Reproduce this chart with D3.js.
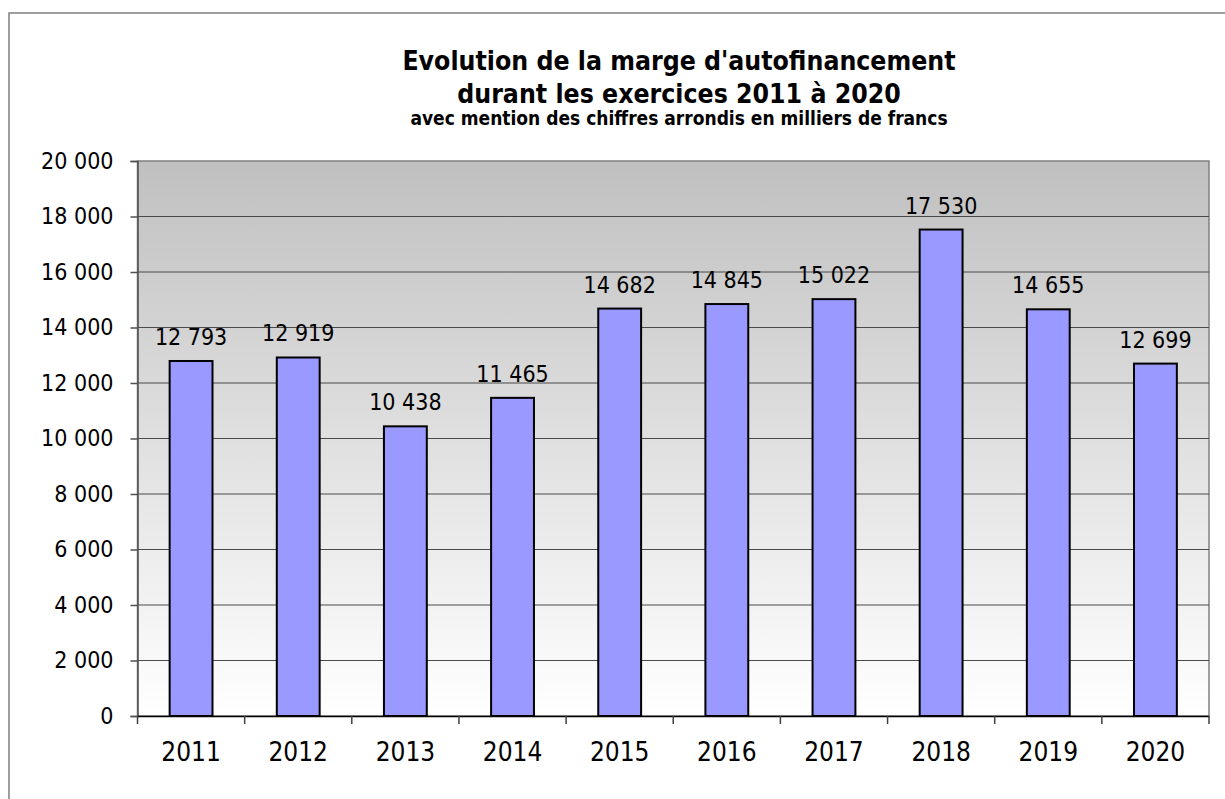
<!DOCTYPE html>
<html>
<head>
<meta charset="utf-8">
<title>Marge d'autofinancement</title>
<style>
  body { margin: 0; background: #fff; }
  text { font-family: "DejaVu Sans Condensed", "DejaVu Sans", sans-serif; fill: #000; }
</style>
<script src="https://d3js.org/d3.v7.min.js"></script>
</head>
<body>
<script>

let years = ["2011", "2012", "2013", "2014", "2015", "2016", "2017", "2018", "2019", "2020"];
let values = [12793, 12919, 10438, 11465, 14682, 14845, 15022, 17530, 14655, 12699];
let yTicks = [0, 2000, 4000, 6000, 8000, 10000, 12000, 14000, 16000, 18000, 20000];
let titleLines = ["Evolution de la marge d'autofinancement", "durant les exercices 2011 à 2020"];
let subtitle = "avec mention des chiffres arrondis en milliers de francs";

let width = 1225, height = 799;
let plot = {left: 137.5, right: 1209, top: 161, bottom: 716};

let fmt = d => d3.format(",")(d).replace(/,/g, " ");

let svg = d3.select("body").append("svg")
    .attr("width", width)
    .attr("height", height);

// cadre extérieur
svg.append("rect")
    .attr("x", 9).attr("y", 13)
    .attr("width", width + 10).attr("height", height + 10)
    .attr("fill", "none")
    .attr("stroke", "#7f7f7f")
    .attr("stroke-width", 1.5);

let grad = svg.append("defs").append("linearGradient")
    .attr("id", "bg").attr("x1", 0).attr("y1", 0).attr("x2", 0).attr("y2", 1);
grad.append("stop").attr("offset", "0%").attr("stop-color", "#c0c0c0");
grad.append("stop").attr("offset", "100%").attr("stop-color", "#ffffff");

let x = d3.scaleBand()
    .domain(years)
    .range([plot.left, plot.right])
    .paddingInner(0.6)
    .paddingOuter(0.3);

let y = d3.scaleLinear()
    .domain([0, 20000])
    .range([plot.bottom, plot.top]);

svg.append("rect")
    .attr("x", plot.left).attr("y", plot.top)
    .attr("width", plot.right - plot.left).attr("height", plot.bottom - plot.top)
    .attr("fill", "url(#bg)")
    .attr("stroke", "#808080")
    .attr("stroke-width", 1.5);

// grille
svg.append("g")
    .selectAll("line")
    .data(yTicks.filter(d => d > 0 && d < 20000))
    .join("line")
        .attr("x1", plot.left).attr("x2", plot.right)
        .attr("y1", d => y(d)).attr("y2", d => y(d))
        .attr("stroke", "#4a4a4a")
        .attr("stroke-width", 1.2);

// axe Y
let yAxis = svg.append("g")
    .attr("transform", `translate(${plot.left},0)`)
    .call(d3.axisLeft(y).tickValues(yTicks).tickFormat(fmt).tickSize(7).tickPadding(17));
yAxis.select(".domain").attr("stroke", "#505050").attr("stroke-width", 1.5);
yAxis.selectAll(".tick line").attr("stroke", "#505050").attr("stroke-width", 1.5);
yAxis.selectAll("text").style("font-size", "23px").attr("fill", "#000");

// barres
svg.append("g")
    .selectAll("rect")
    .data(values)
    .join("rect")
        .attr("x", (d, i) => x(years[i]))
        .attr("y", d => y(d))
        .attr("width", x.bandwidth())
        .attr("height", d => y(0) - y(d))
        .attr("fill", "#9999ff")
        .attr("stroke", "#000")
        .attr("stroke-width", 2);

// étiquettes de valeurs
svg.append("g")
    .selectAll("text")
    .data(values)
    .join("text")
        .attr("x", (d, i) => x(years[i]) + x.bandwidth() / 2)
        .attr("y", d => y(d) - 16)
        .attr("text-anchor", "middle")
        .style("font-size", "23px")
        .text(fmt);

// axe X
let xAxis = svg.append("g")
    .attr("transform", `translate(0,${plot.bottom})`)
    .call(d3.axisBottom(x).tickSize(0).tickPadding(27));
xAxis.select(".domain").attr("stroke", "#000").attr("stroke-width", 1.5);
xAxis.selectAll("text").style("font-size", "26px").attr("fill", "#000");

let step = x.step();
svg.append("g")
    .selectAll("line")
    .data(d3.range(years.length + 1))
    .join("line")
        .attr("x1", i => plot.left + i * step).attr("x2", i => plot.left + i * step)
        .attr("y1", plot.bottom).attr("y2", plot.bottom + 8)
        .attr("stroke", "#404040")
        .attr("stroke-width", 1.5);

// titre
let cx = (403 + 955) / 2;
svg.append("g")
    .selectAll("text")
    .data(titleLines)
    .join("text")
        .attr("x", cx)
        .attr("y", (d, i) => 70 + i * 32.5)
        .attr("text-anchor", "middle")
        .style("font-size", "26.4px")
        .style("font-weight", "bold")
        .text(d => d);

svg.append("text")
    .attr("x", cx)
    .attr("y", 125)
    .attr("text-anchor", "middle")
    .style("font-size", "19px")
    .style("font-weight", "bold")
    .text(subtitle);

</script>
</body>
</html>
